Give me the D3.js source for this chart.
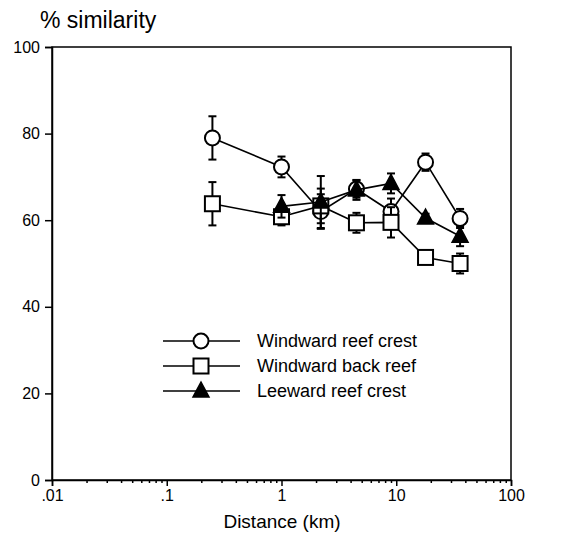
<!DOCTYPE html>
<html>
  <head>
    <meta charset="UTF-8">
    <title>% similarity vs distance</title>
    <style>
      body { margin: 0; background: #fff; }
      svg text { font-family: "Liberation Sans", Arial, sans-serif; fill: #000; }
    </style>
  </head>
  <body>
    <svg></svg>
    <script src="https://d3js.org/d3.v7.min.js"></script>
    <script>

// distances (km)
var distances = [0.25, 1, 2.2, 4.5, 9, 18, 36];
var leewardDistances = [1, 2.2, 4.5, 9, 18, 36];

// % similarity and error
var windwardCrest = [79, 72.3, 62, 67.2, 62, 73.4, 60.4];
var windwardCrestErr = [5, 2.4, 4, 2, 3, 2, 2.2];
var windwardBack = [63.8, 60.8, 63.3, 59.4, 59.5, 51.4, 50];
var windwardBackErr = [5, 2, 4, 2.3, 3.5, 1.2, 2.3];
var leewardCrest = [63.2, 64.2, 67, 68.5, 60.5, 56.3];
var leewardCrestErr = [2.6, 6, 2.3, 2.3, 1, 2.3];

var seriesNames = ["Windward reef crest", "Windward back reef", "Leeward reef crest"];
var xMajorTicks = [0.01, 0.1, 1, 10, 100];
var xTickLabels = [".01", ".1", "1", "10", "100"];
var yTicks = [0, 20, 40, 60, 80, 100];

var config = {
  width: 564,
  height: 536,
  left: 52,
  right: 511,
  top: 47,
  bottom: 480
};

var svg = d3.select("svg")
  .attr("width", config.width)
  .attr("height", config.height);

var x = d3.scaleLog().domain([0.01, 100]).range([config.left, config.right]);
var y = d3.scaleLinear().domain([0, 100]).range([config.bottom, config.top]);

// minor ticks for the log axis
var minorTicks = [];
xMajorTicks.slice(0, -1).forEach(function(m){
  for (var k = 2; k < 10; k++) minorTicks.push(m * k);
});

// frame
svg.append("rect")
  .attr("x", config.left)
  .attr("y", config.top)
  .attr("width", config.right - config.left)
  .attr("height", config.bottom - config.top)
  .attr("fill", "none")
  .attr("stroke", "#000")
  .attr("stroke-width", 1.5);

// x axis
var gx = svg.append("g")
  .attr("transform", "translate(0," + config.bottom + ")")
  .call(d3.axisBottom(x).tickValues(xMajorTicks).tickSize(6).tickPadding(4)
    .tickFormat(function(d, i){ return xTickLabels[i]; }));
svg.append("g")
  .attr("transform", "translate(0," + config.bottom + ")")
  .call(d3.axisBottom(x).tickValues(minorTicks).tickSize(3).tickFormat(""))
  .select(".domain").remove();
gx.selectAll("text").style("font-size", "16px");

// y axis
var gy = svg.append("g")
  .attr("transform", "translate(" + config.left + ",0)")
  .call(d3.axisLeft(y).tickValues(yTicks).tickSize(7).tickPadding(5));
gy.selectAll("text").style("font-size", "16px");

svg.selectAll(".domain").attr("stroke-width", 1.5);
svg.selectAll(".tick line").attr("stroke-width", 1.5);

// titles
svg.append("text")
  .attr("x", 40)
  .attr("y", 28)
  .style("font-size", "23px")
  .text("% similarity");

svg.append("text")
  .attr("x", 282)
  .attr("y", 528)
  .attr("text-anchor", "middle")
  .style("font-size", "19px")
  .text("Distance (km)");

// marker drawing
function drawMarker(g, type, cx, cy){
  if (type == "circle") {
    g.append("circle").attr("cx", cx).attr("cy", cy).attr("r", 7.5)
      .attr("fill", "#fff").attr("stroke", "#000").attr("stroke-width", 2);
  } else if (type == "square") {
    g.append("rect").attr("x", cx - 7.5).attr("y", cy - 7.5)
      .attr("width", 15).attr("height", 15)
      .attr("fill", "#fff").attr("stroke", "#000").attr("stroke-width", 2);
  } else {
    g.append("path")
      .attr("d", "M" + cx + "," + (cy - 9) + "L" + (cx + 8) + "," + (cy + 6) + "L" + (cx - 8) + "," + (cy + 6) + "Z")
      .attr("fill", "#000").attr("stroke", "#000").attr("stroke-width", 1.5);
  }
}

var series = [
  {name: seriesNames[0], xs: distances, ys: windwardCrest, err: windwardCrestErr, type: "circle"},
  {name: seriesNames[1], xs: distances, ys: windwardBack, err: windwardBackErr, type: "square"},
  {name: seriesNames[2], xs: leewardDistances, ys: leewardCrest, err: leewardCrestErr, type: "triangle"}
];

var line = d3.line()
  .x(function(d){ return x(d[0]); })
  .y(function(d){ return y(d[1]); });

series.forEach(function(s){
  var g = svg.append("g");
  var pts = s.xs.map(function(d, i){ return [d, s.ys[i], s.err[i]]; });

  g.append("path")
    .datum(pts)
    .attr("d", line)
    .attr("fill", "none")
    .attr("stroke", "#000")
    .attr("stroke-width", 1.6);

  // error bars
  pts.forEach(function(p){
    var cx = x(p[0]);
    g.append("line")
      .attr("x1", cx).attr("x2", cx)
      .attr("y1", y(p[1] + p[2])).attr("y2", y(p[1] - p[2]))
      .attr("stroke", "#000").attr("stroke-width", 2);
    [p[1] + p[2], p[1] - p[2]].forEach(function(v){
      g.append("line")
        .attr("x1", cx - 4).attr("x2", cx + 4)
        .attr("y1", y(v)).attr("y2", y(v))
        .attr("stroke", "#000").attr("stroke-width", 2);
    });
  });

  pts.forEach(function(p){
    drawMarker(g, s.type, x(p[0]), y(p[1]));
  });
});

// legend
var legendY = [341, 366, 391];
series.forEach(function(s, i){
  var g = svg.append("g");
  g.append("line")
    .attr("x1", 163).attr("x2", 240)
    .attr("y1", legendY[i]).attr("y2", legendY[i])
    .attr("stroke", "#000").attr("stroke-width", 1.6);
  drawMarker(g, s.type, 201, legendY[i]);
  g.append("text")
    .attr("x", 257)
    .attr("y", legendY[i] + 6)
    .style("font-size", "18px")
    .text(s.name);
});

    </script>
  </body>
</html>
